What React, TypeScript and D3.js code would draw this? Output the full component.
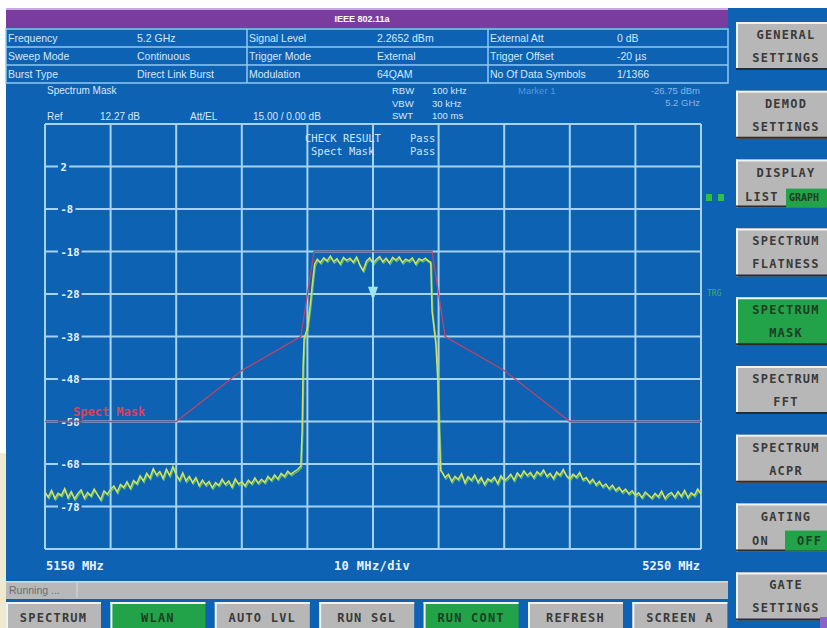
import React from "react";
import * as d3 from "d3";

// ---------- data ----------
const xTickFreqs = [5150, 5160, 5170, 5180, 5190, 5200, 5210, 5220, 5230, 5240, 5250];
const yTickLevels = [2, -8, -18, -28, -38, -48, -58, -68, -78];
const yTickLabels = ["2", "-8", "-18", "-28", "-38", "-48", "-58", "-68", "-78"];

const maskFreq = [5150, 5170, 5180, 5189, 5191, 5209, 5211, 5220, 5230, 5250];
const maskLevel = [-58, -58, -46, -38, -18, -18, -38, -46, -58, -58];

// noise floor left of the channel, 5150 MHz upward in 0.5 MHz steps
const floorLeft = [
  -74.6, -75.8, -74.2, -76.1, -74.9, -75.4, -73.8, -75.9, -74.5, -76.2,
  -75.0, -74.1, -76.0, -74.7, -75.5, -73.9, -75.2, -76.4, -74.3, -75.1,
  -74.0, -73.2, -74.6, -72.8, -73.5, -72.2, -73.7, -71.9, -72.6, -70.8,
  -72.0, -70.2, -71.3, -69.1, -70.6, -69.8, -71.4, -69.2, -70.7, -68.6,
  -70.5, -71.8, -70.1, -72.0, -70.9, -72.4, -71.2, -73.1, -71.8, -72.9,
  -72.1, -73.6, -72.4, -73.0, -71.6, -72.8, -72.0, -73.4, -71.5, -72.7,
  -72.2, -73.1, -71.8, -72.6, -71.3, -72.5, -71.6, -72.3, -70.9, -71.8,
  -70.6, -71.5, -70.2, -70.9, -69.7, -70.4, -69.8, -69.3,
];
const edgeLeftFreq = [5189.0, 5189.2, 5189.35, 5189.5, 5190.0, 5190.4, 5190.8, 5191.1];
const edgeLeftLevel = [-68.5, -60, -45, -38.5, -36, -31, -25, -21];
// in-band, 5191.5 MHz upward in 0.5 MHz steps
const topBand = [
  -19.8, -20.6, -19.5, -20.2, -19.1, -20.4, -19.7, -20.9, -19.4, -20.1,
  -19.6, -20.5, -19.3, -21.2, -22.5, -20.3, -19.5, -20.8, -19.9, -19.2,
  -20.4, -19.6, -20.7, -19.4, -20.0, -19.3, -20.6, -19.8, -20.2, -19.5,
  -20.9, -19.7, -20.1, -19.6, -20.3,
];
const edgeRightFreq = [5208.8, 5209.0, 5209.3, 5209.6, 5209.9, 5210.1, 5210.3];
const edgeRightLevel = [-20.5, -32, -36, -40, -49, -60, -69.5];
// noise floor right of the channel, 5210.5 MHz upward in 0.5 MHz steps
const floorRight = [
  -69.8, -71.2, -70.4, -72.1, -70.9, -71.6, -70.3, -72.4, -71.0, -71.8,
  -70.6, -72.3, -71.2, -72.8, -71.5, -72.0, -71.1, -72.6, -70.8, -71.9,
  -71.3, -70.4, -71.8, -70.1, -71.0, -69.6, -70.7, -70.0, -71.2, -69.8,
  -70.5, -69.4, -70.9, -70.2, -71.4, -69.9, -70.6, -69.3, -70.8, -71.5,
  -70.4, -71.1, -70.0, -71.7, -71.2, -72.4, -71.6, -72.9, -72.1, -73.3,
  -72.7, -73.8, -73.0, -74.2, -73.5, -74.6, -73.9, -75.0, -74.3, -75.4,
  -74.8, -75.9, -74.6, -75.3, -76.0, -74.9, -75.7, -74.4, -76.1, -75.2,
  -74.7, -75.8, -74.5, -75.6, -74.2, -75.9, -74.8, -75.4, -73.9, -75.1,
];
const markerFreq = 5200;
const markerLevel = -26.75;
const markerTraceLevel = -20;

const infoLabels = [
  ["Frequency", "Signal Level", "External Att"],
  ["Sweep Mode", "Trigger Mode", "Trigger Offset"],
  ["Burst Type", "Modulation", "No Of Data Symbols"],
];
const infoValues = [
  ["5.2 GHz", "2.2652 dBm", "0 dB"],
  ["Continuous", "External", "-20 µs"],
  ["Direct Link Burst", "64QAM", "1/1366"],
];
const bwLabels = ["RBW", "VBW", "SWT"];
const bwValues = ["100 kHz", "30 kHz", "100 ms"];
const checkRows = [["CHECK RESULT", "Pass"], ["Spect Mask", "Pass"]];

const sideButtons = [
  ["GENERAL", "SETTINGS"],
  ["DEMOD", "SETTINGS"],
  ["DISPLAY", "LIST"],
  ["SPECTRUM", "FLATNESS"],
  ["SPECTRUM", "MASK"],
  ["SPECTRUM", "FFT"],
  ["SPECTRUM", "ACPR"],
  ["GATING", "ON"],
  ["GATE", "SETTINGS"],
];
const sideActive = [false, false, false, false, true, false, false, false, false];
const bottomButtons = ["SPECTRUM", "WLAN", "AUTO LVL", "RUN SGL", "RUN CONT", "REFRESH", "SCREEN A"];
const bottomActive = [false, true, false, false, true, false, false];

// ---------- styles ----------
const BLUE = "#0d62b3";
const GRID = "#a6d3f2";
const GRAY = "#b7b7b7";
const GREEN = "#22a34a";
const MONO = "'DejaVu Sans Mono', monospace";
const SANS = "'Liberation Sans', Arial, sans-serif";
const TXT = "#d6e9fb";

function Btn({ x, y, w, h, fill }: { x: number; y: number; w: number; h: number; fill: string }) {
  return (
    <g>
      <rect x={x} y={y} width={w} height={h} fill={fill} />
      <line x1={x} y1={y + 1} x2={x + w} y2={y + 1} stroke="#f2f2f2" strokeWidth={2} />
      <line x1={x + 1} y1={y} x2={x + 1} y2={y + h} stroke="#f2f2f2" strokeWidth={2} />
      <line x1={x} y1={y + h - 1} x2={x + w} y2={y + h - 1} stroke="#2b2b2b" strokeWidth={2} />
    </g>
  );
}

export default function App() {
  const x = d3.scaleLinear().domain([5150, 5250]).range([45, 701]);
  const y = d3.scaleLinear().domain([12, -88]).range([124, 549]);

  const pts: [number, number][] = [];
  floorLeft.forEach((v, i) => pts.push([5150 + i * 0.5, v]));
  edgeLeftFreq.forEach((f, i) => pts.push([f, edgeLeftLevel[i]]));
  topBand.forEach((v, i) => pts.push([5191.5 + i * 0.5, v]));
  edgeRightFreq.forEach((f, i) => pts.push([f, edgeRightLevel[i]]));
  floorRight.forEach((v, i) => pts.push([5210.5 + i * 0.5, v]));

  const line = d3.line<[number, number]>().x((d) => x(d[0])).y((d) => y(d[1]));
  const tracePath = line(pts) || "";
  const maskPath = line(maskFreq.map((f, i) => [f, maskLevel[i]] as [number, number])) || "";

  const colX = [6, 247, 488];
  const valX = [137, 377, 617];
  const rowY = [29, 47, 65, 83];

  const mx = x(markerFreq);
  const my = y(markerLevel);

  return (
    <svg
      width={827}
      height={628}
      style={{ position: "fixed", left: 0, top: 0, display: "block" }}
      xmlns="http://www.w3.org/2000/svg"
    >
      <rect x={0} y={0} width={827} height={628} fill={BLUE} />
      <rect x={0} y={0} width={827} height={8} fill="#ffffff" />
      <rect x={0} y={0} width={6} height={453} fill="#ffffff" />
      <rect x={0} y={453} width={6} height={175} fill="#efe9cf" />

      {/* title bar */}
      <rect x={6} y={8} width={722} height={20} fill="#7a3d9f" />
      <rect x={6} y={8} width={722} height={2} fill="#c9a6e6" />
      <text x={362} y={22} textAnchor="middle" fontFamily={SANS} fontSize={9} fontWeight="bold" fill="#ffffff">
        IEEE 802.11a
      </text>

      {/* info table */}
      <g stroke="#8fc9f0" strokeWidth={1.5} fill="none">
        <rect x={6} y={rowY[0]} width={722} height={rowY[3] - rowY[0]} />
        <line x1={6} x2={728} y1={rowY[1]} y2={rowY[1]} />
        <line x1={6} x2={728} y1={rowY[2]} y2={rowY[2]} />
        <line x1={247} x2={247} y1={rowY[0]} y2={rowY[3]} />
        <line x1={488} x2={488} y1={rowY[0]} y2={rowY[3]} />
      </g>
      {infoLabels.map((row, r) =>
        row.map((lab, c) => (
          <g key={`i${r}${c}`}>
            <text x={colX[c] + 2} y={rowY[r] + 13} fontFamily={SANS} fontSize={10.5} fill={TXT}>
              {lab}
            </text>
            <text x={valX[c]} y={rowY[r] + 13} fontFamily={SANS} fontSize={10.5} fill={TXT}>
              {infoValues[r][c]}
            </text>
          </g>
        ))
      )}

      {/* header of the plot */}
      <text x={47} y={94} fontFamily={SANS} fontSize={10} fill={TXT}>Spectrum Mask</text>
      {bwLabels.map((b, i) => (
        <g key={b}>
          <text x={392} y={94 + i * 12.5} fontFamily={SANS} fontSize={9.5} fill={TXT}>{b}</text>
          <text x={432} y={94 + i * 12.5} fontFamily={SANS} fontSize={9.5} fill={TXT}>{bwValues[i]}</text>
        </g>
      ))}
      <text x={518} y={94} fontFamily={SANS} fontSize={9.5} fill="#5795dc">Marker 1</text>
      <text x={700} y={94} textAnchor="end" fontFamily={SANS} fontSize={9.5} fill="#86b6ea">-26.75 dBm</text>
      <text x={700} y={106} textAnchor="end" fontFamily={SANS} fontSize={9.5} fill="#86b6ea">5.2 GHz</text>
      <text x={47} y={120} fontFamily={SANS} fontSize={10} fill={TXT}>Ref</text>
      <text x={100} y={120} fontFamily={SANS} fontSize={10} fill={TXT}>12.27 dB</text>
      <text x={190} y={120} fontFamily={SANS} fontSize={10} fill={TXT}>Att/EL</text>
      <text x={253} y={120} fontFamily={SANS} fontSize={10} fill={TXT}>15.00 / 0.00 dB</text>

      {/* grid */}
      <g stroke={GRID} strokeWidth={2}>
        {xTickFreqs.map((f) => (
          <line key={`v${f}`} x1={x(f)} x2={x(f)} y1={y(12)} y2={y(-88)} />
        ))}
        {[12, ...yTickLevels, -88].map((l) => (
          <line key={`h${l}`} x1={x(5150)} x2={x(5250)} y1={y(l)} y2={y(l)} />
        ))}
      </g>
      {yTickLevels.map((l, i) => (
        <g key={`yl${l}`}>
          <rect x={58} y={y(l) - 6} width={yTickLabels[i].length * 6.2 + 5} height={12} fill={BLUE} />
          <text x={60.5} y={y(l) + 4} fontFamily={MONO} fontWeight="bold" fontSize={10.5} fill="#e8f4ff">
            {yTickLabels[i]}
          </text>
        </g>
      ))}

      {/* check result */}
      {checkRows.map((r, i) => (
        <g key={r[0]}>
          <text x={i === 0 ? 305 : 311} y={142 + i * 12.5} fontFamily={MONO} fontSize={10.5} fill="#cfe6fb">{r[0]}</text>
          <text x={410} y={142 + i * 12.5} fontFamily={MONO} fontSize={10.5} fill="#cfe6fb">{r[1]}</text>
        </g>
      ))}

      {/* mask */}
      <path d={maskPath} fill="none" stroke="#b9456a" strokeWidth={1.3} />
      <text x={73} y={416} fontFamily={MONO} fontWeight="bold" fontSize={12} fill="#d9425f">Spect Mask</text>

      {/* trace */}
      <path d={tracePath} fill="none" stroke="#6fcf6a" strokeWidth={1.3} transform="translate(0.8,1.6)" opacity={0.8} />
      <path d={tracePath} fill="none" stroke="#d3e45a" strokeWidth={1.5} />

      {/* marker */}
      <line x1={mx} x2={mx} y1={y(markerTraceLevel)} y2={my} stroke="#9fe6ea" strokeWidth={2} />
      <path d={`M${mx - 5},${my - 2} L${mx + 5},${my - 2} L${mx},${my + 12} Z`} fill="#9fe6ea" />

      {/* little side indicators */}
      <rect x={706} y={194} width={6} height={7} fill="#2fbf4a" />
      <rect x={718} y={194} width={6} height={7} fill="#2fbf4a" />
      <text x={707} y={296} fontFamily={MONO} fontSize={8} fill="#3fae70">TRG</text>

      {/* bottom axis labels */}
      <text x={46} y={570} fontFamily={MONO} fontWeight="bold" fontSize={12} fill="#e8f4ff">5150 MHz</text>
      <text x={372} y={570} textAnchor="middle" fontFamily={MONO} fontWeight="bold" fontSize={12} letterSpacing={0.4} fill="#e8f4ff">10 MHz/div</text>
      <text x={700} y={570} textAnchor="end" fontFamily={MONO} fontWeight="bold" fontSize={12} fill="#e8f4ff">5250 MHz</text>

      {/* status bar */}
      <rect x={6} y={581} width={722} height={18} fill="#b8b8b8" />
      <rect x={6} y={581} width={722} height={1.5} fill="#dadada" />
      <line x1={77} x2={77} y1={583} y2={598} stroke="#d8d8d8" strokeWidth={1} />
      <text x={9} y={594} fontFamily={SANS} fontSize={10.5} fill="#6c6c6c">Running ...</text>

      {/* bottom buttons */}
      {bottomButtons.map((b, i) => {
        const bx = 6 + i * 104.4;
        return (
          <g key={b}>
            <Btn x={bx} y={602} w={95} h={30} fill={bottomActive[i] ? GREEN : GRAY} />
            <text
              x={bx + 47.5}
              y={622}
              textAnchor="middle"
              fontFamily={MONO}
              fontWeight="bold"
              fontSize={12}
              letterSpacing={1.2}
              fill={bottomActive[i] ? "#1b3f20" : "#3a3a3a"}
            >
              {b}
            </text>
          </g>
        );
      })}

      {/* side buttons */}
      {sideButtons.map((s, i) => {
        const by = 22 + i * 68.8;
        const fill = sideActive[i] ? GREEN : GRAY;
        const tc = sideActive[i] ? "#1b3f20" : "#3a3a3a";
        return (
          <g key={`sb${i}`}>
            <Btn x={736} y={by} w={95} h={48} fill={fill} />
            <text x={786} y={by + 17} textAnchor="middle" fontFamily={MONO} fontWeight="bold" fontSize={12} letterSpacing={1.2} fill={tc}>
              {s[0]}
            </text>
            {i === 2 ? (
              <g>
                <text x={745} y={by + 41} fontFamily={MONO} fontWeight="bold" fontSize={12} letterSpacing={1.2} fill={tc}>{s[1]}</text>
                <rect x={786} y={by + 29} width={41} height={19} fill={GREEN} />
                <text x={789} y={by + 41} fontFamily={MONO} fontWeight="bold" fontSize={10} letterSpacing={0} fill="#1b3f20">GRAPH</text>
              </g>
            ) : i === 7 ? (
              <g>
                <text x={752} y={by + 41} fontFamily={MONO} fontWeight="bold" fontSize={12} letterSpacing={1.2} fill={tc}>{s[1]}</text>
                <rect x={785} y={by + 27} width={42} height={20} fill={GREEN} />
                <text x={797} y={by + 41} fontFamily={MONO} fontWeight="bold" fontSize={12} letterSpacing={1.2} fill="#1b3f20">OFF</text>
              </g>
            ) : (
              <text x={786} y={by + 40} textAnchor="middle" fontFamily={MONO} fontWeight="bold" fontSize={12} letterSpacing={1.2} fill={tc}>
                {s[1]}
              </text>
            )}
          </g>
        );
      })}
      <rect x={820} y={617} width={7} height={11} fill="#8a62c8" />
    </svg>
  );
}
